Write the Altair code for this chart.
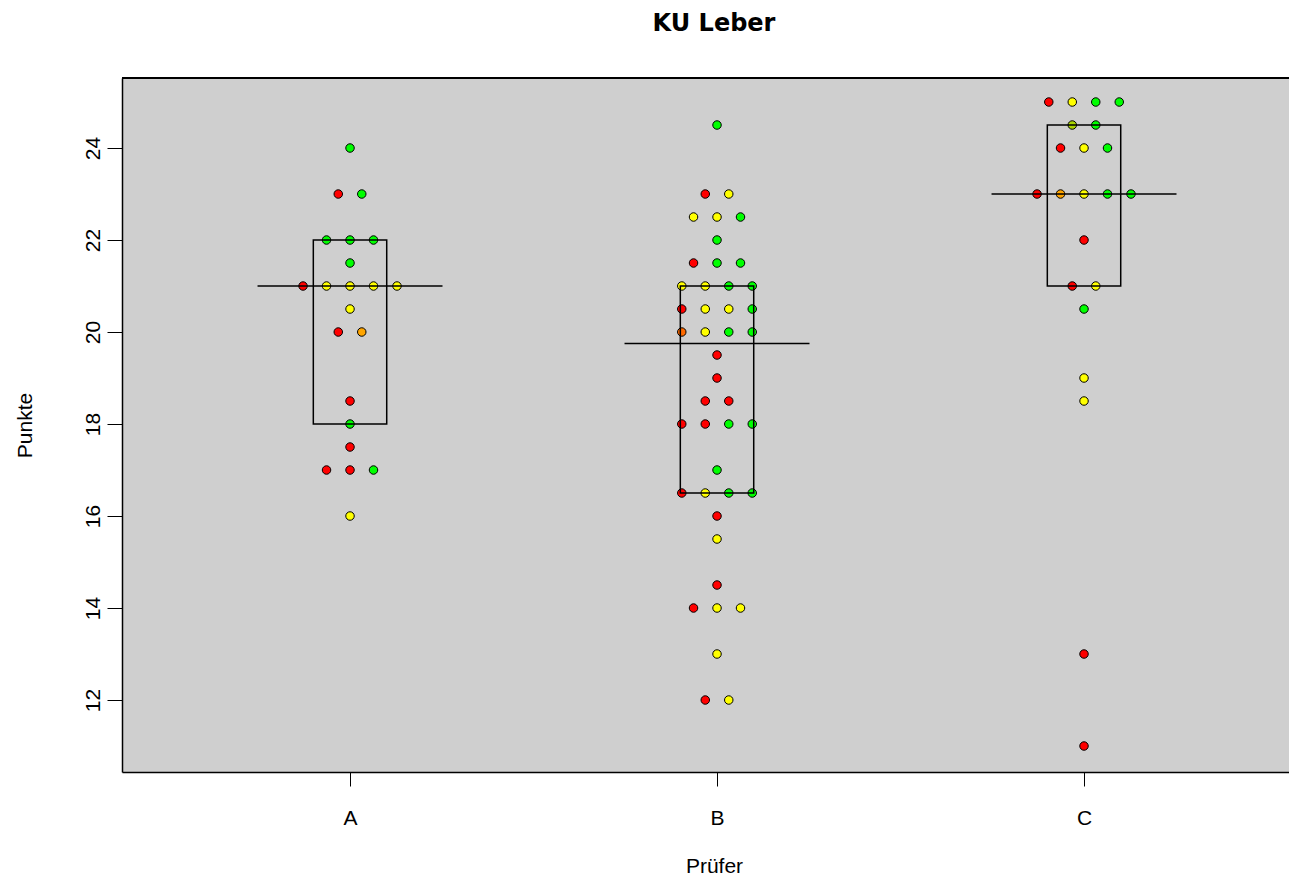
import altair as alt
import pandas as pd
import numpy as np
from collections import Counter, defaultdict

# ---- data ----
groups = ["A", "B", "C"]

A_values = [24, 23, 23, 22, 22, 22, 21.5, 21, 21, 21, 21, 21, 20.5, 20, 20,
            18.5, 18, 17.5, 17, 17, 17, 16]
A_colors = ["g", "r", "g", "g", "g", "g", "g", "r", "y", "y", "y", "y", "y",
            "r", "o", "r", "g", "r", "r", "r", "g", "y"]

B_values = [24.5, 23, 23, 22.5, 22.5, 22.5, 22, 21.5, 21.5, 21.5,
            21, 21, 21, 21, 20.5, 20.5, 20.5, 20.5, 20, 20, 20, 20,
            19.5, 19, 18.5, 18.5, 18, 18, 18, 18, 17, 16.5, 16.5, 16.5, 16.5,
            16, 15.5, 14.5, 14, 14, 14, 13, 12, 12]
B_colors = ["g", "r", "y", "y", "y", "g", "g", "r", "g", "g",
            "y", "y", "g", "g", "r", "y", "y", "g", "or", "y", "g", "g",
            "r", "r", "r", "r", "r", "r", "g", "g", "g", "r", "y", "g", "g",
            "r", "y", "r", "r", "y", "y", "y", "r", "y"]

C_values = [25, 25, 25, 25, 24.5, 24.5, 24, 24, 24, 23, 23, 23, 23, 23,
            22, 21, 21, 20.5, 19, 18.5, 13, 11]
C_colors = ["r", "y", "g", "g", "yg", "g", "r", "y", "g", "r", "o", "y", "g", "g",
            "r", "r", "y", "g", "y", "y", "r", "r"]

palette = {"r": "#FF0000", "y": "#FFFF00", "g": "#00FF00", "o": "#FFA500",
           "or": "#FF6A00", "yg": "#A8D400"}

step = 0.064      # horizontal spacing of tied points (category units)
box_half = 0.1
med_half = 0.252

def fivenum(v):
    s = sorted(v)
    n = len(s)
    n4 = np.floor((n + 3) / 2) / 2
    d = [1, n4, (n + 1) / 2, n + 1 - n4, n]
    return [0.5 * (s[int(np.floor(i)) - 1] + s[int(np.ceil(i)) - 1]) for i in d]

pts, boxes, meds = [], [], []
for gi, (vals, cols) in enumerate([(A_values, A_colors), (B_values, B_colors), (C_values, C_colors)]):
    center = gi + 1
    counts = Counter(vals)
    seen = defaultdict(int)
    for v, c in zip(vals, cols):
        n = counts[v]
        i = seen[v]
        seen[v] += 1
        pts.append({"x": center + (i - (n - 1) / 2) * step, "y": v, "col": palette[c]})
    f = fivenum(vals)
    boxes.append({"x": center - box_half, "x2": center + box_half, "lo": f[1], "hi": f[3]})
    meds.append({"x": center - med_half, "x2": center + med_half, "m": f[2]})

pts = pd.DataFrame(pts)
boxes = pd.DataFrame(boxes)
meds = pd.DataFrame(meds)

FONT = "Liberation Sans"
W, H = 1167, 694
xscale = alt.Scale(domain=[0.3787, 0.3787 + W / 367.0], nice=False, zero=False)
yscale = alt.Scale(domain=[10.435, 25.522], nice=False, zero=False)

xaxis = alt.Axis(values=[1, 2, 3], labelExpr="['A','B','C'][datum.value - 1]",
                 title="Prüfer", grid=False, tickSize=14, tickColor="black",
                 domainColor="black", domainWidth=1.5, labelFont=FONT, labelFontSize=21,
                 labelColor="black", labelPadding=21, titleFont=FONT, titleFontSize=21,
                 titleFontWeight="normal", titleColor="black", titleX=592, titleY=94,
                 titleBaseline="middle", titleAlign="center")
yaxis = alt.Axis(values=[12, 14, 16, 18, 20, 22, 24], format="d", title="Punkte",
                 grid=False, tickSize=15, tickColor="black", domainColor="black",
                 domainWidth=1.5, labelFont=FONT, labelFontSize=21, labelColor="black",
                 labelAngle=270, labelAlign="center", labelBaseline="alphabetic",
                 labelPadding=8, titleFont=FONT, titleFontSize=21, titleFontWeight="normal",
                 titleColor="black", titleAngle=270, titleX=-97, titleY=347,
                 titleAlign="center", titleBaseline="middle")

points = alt.Chart(pts).mark_point(shape="circle", filled=True, size=72, stroke="black",
                                   strokeWidth=1, opacity=1).encode(
    x=alt.X("x:Q", scale=xscale, axis=xaxis),
    y=alt.Y("y:Q", scale=yscale, axis=yaxis),
    fill=alt.Fill("col:N", scale=None),
)

box = alt.Chart(boxes).mark_rect(fill=None, fillOpacity=0, stroke="black", strokeWidth=1.5).encode(
    x="x:Q", x2="x2:Q", y="lo:Q", y2="hi:Q"
)
med = alt.Chart(meds).mark_rule(color="black", strokeWidth=1.5).encode(
    x="x:Q", x2="x2:Q", y="m:Q"
)
top = alt.Chart(pts).mark_rule(color="black", strokeWidth=1.5).encode(y=alt.value(0))

chart = alt.layer(points, box, med, top).properties(
    width=W, height=H,
    autosize="none",
    padding={"left": 114, "top": 70, "right": 0, "bottom": 106},
    background="white",
    title=alt.TitleParams("KU Leber", font="DejaVu Sans", fontSize=24, fontWeight="bold",
                          color="black", anchor="middle", offset=22, baseline="alphabetic", dx=8.5),
).configure_view(stroke=None, fill="#CFCFCF")

chart.save("out.html", embed_options={"renderer": "svg", "actions": False})
